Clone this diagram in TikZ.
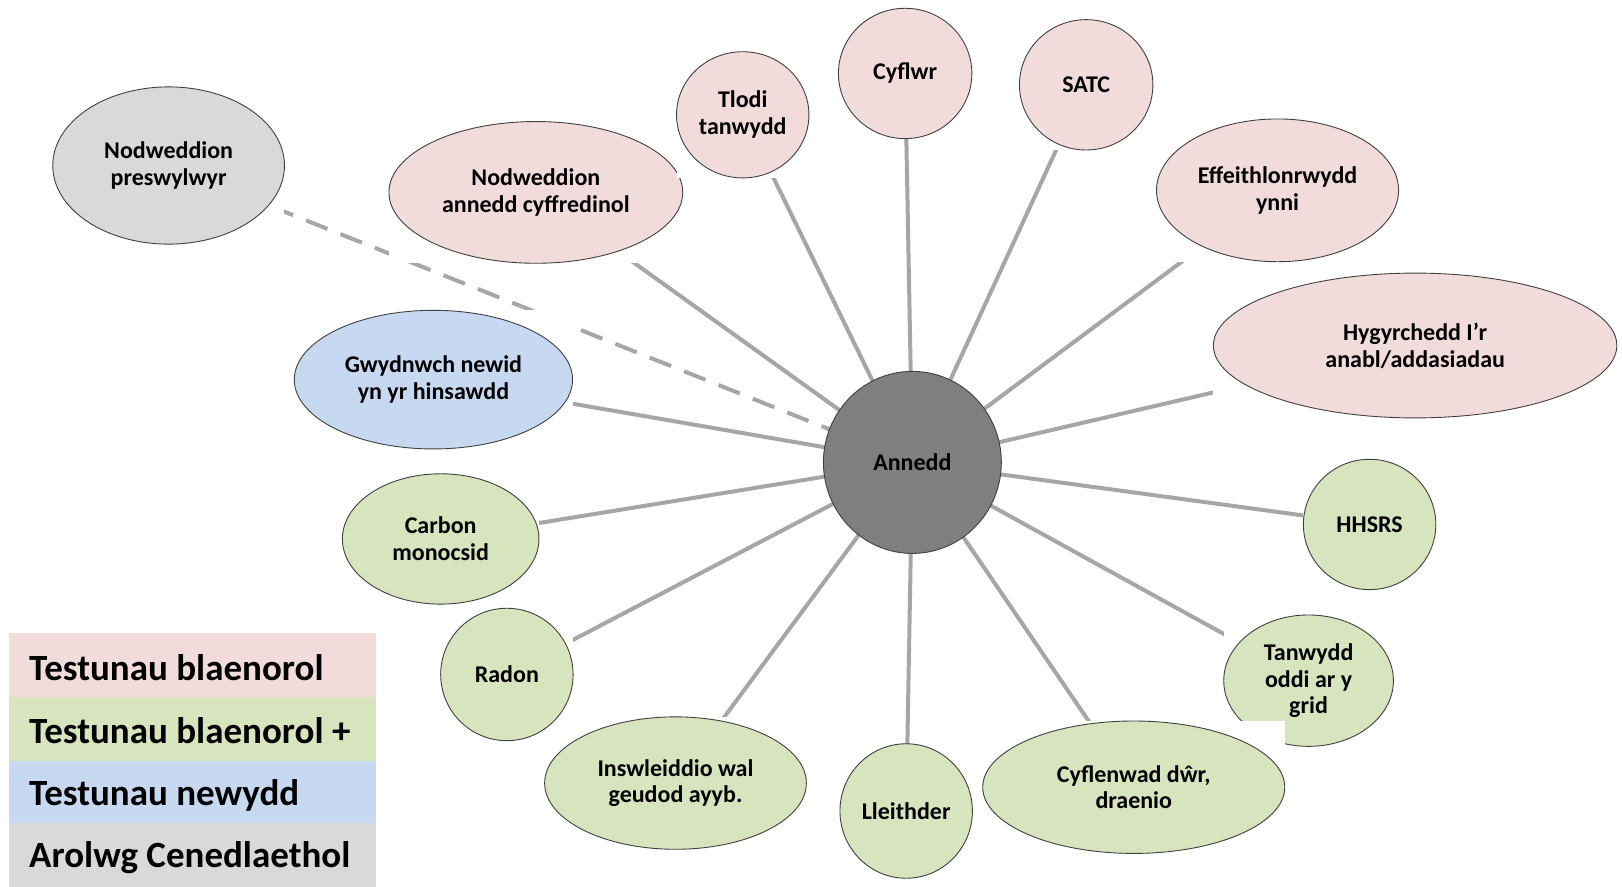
\documentclass[tikz,border=0pt]{standalone}
\usepackage{fontspec}
\setmainfont{Carlito}
\usetikzlibrary{shapes.geometric}
\pgfdeclarelayer{paper}
\pgfdeclarelayer{background}
\pgfsetlayers{paper,background,main}
\definecolor{pinkf}{HTML}{F2DCDB}
\definecolor{greenf}{HTML}{D7E4BD}
\definecolor{bluef}{HTML}{C6D9F1}
\definecolor{grayf}{HTML}{D9D9D9}
\definecolor{hubf}{HTML}{7F7F7F}
\definecolor{linkc}{HTML}{A6A6A6}
\definecolor{rimc}{HTML}{404040}
\tikzset{
  topic/.style={ellipse, draw=rimc, line width=0.9pt, inner sep=0pt, outer sep=0pt,
    align=center, font=\fontsize{24}{26.9}\selectfont\bfseries},
  bgbox/.style={rectangle, fill=white, draw=none, inner sep=0pt, outer sep=0pt},
  link/.style={draw=linkc, line width=4pt},
  dashlink/.style={draw=linkc, line width=4pt, dash pattern=on 23pt off 14pt},
  legendrow/.style={rectangle, draw=none, inner sep=0pt, outer sep=0pt, anchor=north west},
  legendtext/.style={anchor=west, inner sep=0pt, font=\fontsize{37}{40}\selectfont\bfseries},
}
\newcommand\topicnode[7]{%
  \node[bgbox, minimum width=#4*1.0344pt, minimum height=#5*1.0344pt] (#1-bg) at (#2,#3) {};
  \node[topic, fill=#6, minimum width=#4*1.0344pt, minimum height=#5*1.0344pt] (#1) at (#2,#3) {#7};
}
\begin{document}
\begin{tikzpicture}[x=1.0344pt,y=-1.0344pt]
\begin{pgfonlayer}{paper}
\fill[white] (0,0) rectangle (1568,857);
\end{pgfonlayer}
\useasboundingbox (0,0) rectangle (1568,857);

% topics
\topicnode{pres}{163}{160}{224}{152}{grayf}{Nodweddion\\preswylwyr}
\topicnode{cyff}{518}{186}{284}{137}{pinkf}{Nodweddion\\annedd cyffredinol}
\topicnode{tlodi}{718}{111}{128}{122}{pinkf}{Tlodi\\tanwydd}
\topicnode{cyflwr}{875}{71}{129}{126}{pinkf}{Cyflwr}
\topicnode{satc}{1050}{82}{129}{126}{pinkf}{SATC}
\topicnode{effe}{1235}{184}{234}{138}{pinkf}{Effeithlonrwydd\\ynni}
\topicnode{hygy}{1368}{334}{390}{140}{pinkf}{Hygyrchedd I’r\\anabl/addasiadau}
\topicnode{hhsrs}{1324}{507}{128}{126}{greenf}{HHSRS}
\topicnode{tanw}{1265}{658}{164}{127}{greenf}{Tanwydd\\oddi ar y\\grid}
\topicnode{cyfl}{1096}{761}{292}{128}{greenf}{Cyflenwad dŵr,\\draenio}
\topicnode{lleith}{876}{784}{128}{130}{greenf}{Lleithder}
\topicnode{insw}{653}{757}{253}{128}{greenf}{Inswleiddio wal\\geudod ayyb.}
\topicnode{radon}{490}{652}{128}{128}{greenf}{Radon}
\topicnode{carbon}{426}{521}{190}{126}{greenf}{Carbon\\monocsid}
\topicnode{gwyd}{419}{367}{269}{134}{bluef}{Gwydnwch newid\\yn yr hinsawdd}

% hub
\node[ellipse, draw=rimc, line width=0.9pt, fill=hubf, inner sep=0pt,
  minimum width=172*1.0344pt, minimum height=176*1.0344pt,
  font=\fontsize{24}{26.9}\selectfont\bfseries] (annedd) at (882,447) {Annedd};

% connectors (behind the nodes)
\begin{pgfonlayer}{background}
  \draw[dashlink] (pres.center) -- (annedd.center);
  \foreach \t in {cyff,tlodi,cyflwr,satc,effe,hygy,hhsrs,tanw,cyfl,lleith,insw,radon,carbon,gwyd}
    \draw[link] (\t.center) -- (annedd.center);
\end{pgfonlayer}

% legend
\node[legendrow, fill=pinkf, minimum width=354*1.0344pt, minimum height=62*1.0344pt] (lg1) at (9,612) {};
\node[legendrow, fill=greenf, minimum width=354*1.0344pt, minimum height=62*1.0344pt] (lg2) at (9,674) {};
\node[legendrow, fill=bluef, minimum width=354*1.0344pt, minimum height=60*1.0344pt] (lg3) at (9,736) {};
\node[legendrow, fill=grayf, minimum width=354*1.0344pt, minimum height=61*1.0344pt] (lg4) at (9,796) {};
\node[legendtext] (lt1) at (28,645) {Testunau blaenorol};
\node[legendtext] (lt2) at (28,706) {Testunau blaenorol +};
\node[legendtext] (lt3) at (28,769) {Testunau newydd};
\node[legendtext] (lt4) at (28,829) {Arolwg Cenedlaethol};
\end{tikzpicture}
\end{document}
